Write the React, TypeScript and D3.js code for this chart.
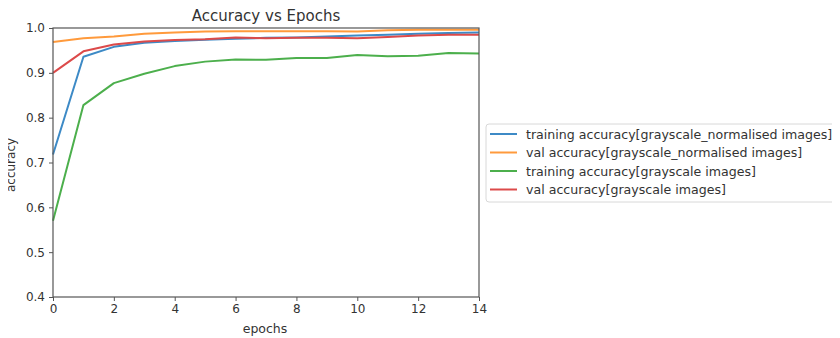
import React, { useEffect, useRef } from 'react';
import * as d3 from 'd3';

const epochs = [0, 1, 2, 3, 4, 5, 6, 7, 8, 9, 10, 11, 12, 13, 14];
const trainNorm = [0.718, 0.936, 0.958, 0.967, 0.971, 0.974, 0.976, 0.978, 0.979, 0.981, 0.983, 0.985, 0.987, 0.989, 0.99];
const valNorm = [0.969, 0.977, 0.981, 0.987, 0.99, 0.992, 0.993, 0.993, 0.993, 0.993, 0.992, 0.995, 0.996, 0.996, 0.996];
const trainGray = [0.57, 0.828, 0.877, 0.898, 0.915, 0.925, 0.93, 0.929, 0.933, 0.933, 0.94, 0.937, 0.938, 0.944, 0.943];
const valGray = [0.9, 0.948, 0.963, 0.97, 0.973, 0.975, 0.979, 0.977, 0.978, 0.978, 0.977, 0.98, 0.983, 0.985, 0.985];

const seriesNames = [
  'training accuracy[grayscale_normalised images]',
  'val accuracy[grayscale_normalised images]',
  'training accuracy[grayscale images]',
  'val accuracy[grayscale images]',
];
const seriesValues = [trainNorm, valNorm, trainGray, valGray];
const colors = ['#3d8ac6', '#ff9a3c', '#4caf4c', '#dc4a4a'];
const xTicks = [0, 2, 4, 6, 8, 10, 12, 14];
const yTicks = [0.4, 0.5, 0.6, 0.7, 0.8, 0.9, 1.0];

function App() {
  const ref = useRef<SVGSVGElement>(null);

  useEffect(() => {
    const svg = d3.select(ref.current);
    svg.selectAll('*').remove();
    const font = 'DejaVu Sans, sans-serif';
    const left = 53, right = 479, top = 28, bottom = 297;

    const x = d3.scaleLinear().domain([0, 14]).range([left, right]);
    const y = d3.scaleLinear().domain([0.4, 1.0]).range([bottom, top]);

    const g = svg.append('g');

    seriesValues.forEach((vals, i) => {
      const line = d3.line<number>()
        .x((_, j) => x(epochs[j]))
        .y(d => y(d));
      g.append('path')
        .datum(vals)
        .attr('d', line)
        .attr('fill', 'none')
        .attr('stroke', colors[i])
        .attr('stroke-width', 2)
        .attr('stroke-linejoin', 'round');
    });

    // frame
    g.append('rect')
      .attr('x', left).attr('y', top)
      .attr('width', right - left).attr('height', bottom - top)
      .attr('fill', 'none').attr('stroke', '#555').attr('stroke-width', 1.2);

    const xAxis = g.append('g')
      .attr('transform', `translate(0,${bottom})`)
      .call(d3.axisBottom(x).tickValues(xTicks).tickFormat(d3.format('d')).tickSize(4).tickPadding(3));
    const yAxis = g.append('g')
      .attr('transform', `translate(${left},0)`)
      .call(d3.axisLeft(y).tickValues(yTicks).tickFormat(d3.format('.1f')).tickSize(4).tickPadding(4));
    [xAxis, yAxis].forEach(a => {
      a.select('.domain').remove();
      a.selectAll('line').attr('stroke', '#555');
      a.selectAll('text').attr('fill', '#333').style('font-family', font).style('font-size', '12px');
    });

    svg.append('text')
      .attr('x', (left + right) / 2).attr('y', 21)
      .attr('text-anchor', 'middle')
      .attr('fill', '#333')
      .style('font-family', font).style('font-size', '15px')
      .text('Accuracy vs Epochs');

    svg.append('text')
      .attr('x', (left + right) / 2 - 1).attr('y', 333)
      .attr('text-anchor', 'middle')
      .attr('fill', '#333')
      .style('font-family', font).style('font-size', '12.5px')
      .text('epochs');

    svg.append('text')
      .attr('transform', `translate(15,165) rotate(-90)`)
      .attr('text-anchor', 'middle')
      .attr('fill', '#333')
      .style('font-family', font).style('font-size', '12px')
      .text('accuracy');

    // legend
    const lg = svg.append('g').attr('transform', 'translate(486,124)');
    lg.append('rect')
      .attr('width', 352).attr('height', 78)
      .attr('rx', 3)
      .attr('fill', '#fff').attr('stroke', '#d8d8d8');
    seriesNames.forEach((name, i) => {
      const yy = 10 + i * 18.5;
      lg.append('line')
        .attr('x1', 4).attr('x2', 31).attr('y1', yy).attr('y2', yy)
        .attr('stroke', colors[i]).attr('stroke-width', 2);
      lg.append('text')
        .attr('x', 40).attr('y', yy + 4.5)
        .attr('fill', '#333')
        .style('font-family', font).style('font-size', '12.6px')
        .text(name);
    });
  }, []);

  return <svg ref={ref} width={840} height={338} style={{ display: 'block', margin: '-8px 0 0 -8px' }} />;
}

export default App;
